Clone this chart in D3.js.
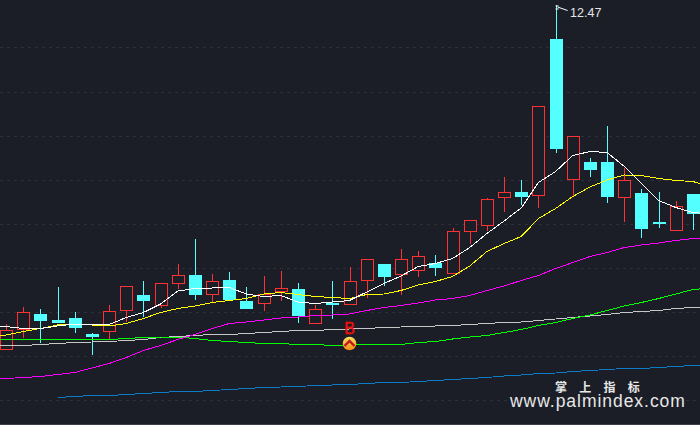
<!DOCTYPE html>
<html>
<head>
<meta charset="utf-8">
<script src="https://cdn.jsdelivr.net/npm/d3@7"></script>
<style>
html, body { margin: 0; padding: 0; background: #1b1e27; overflow: hidden; }
svg { display: block; }
</style>
</head>
<body>
<svg id="chart"></svg>
<script>
// candle data, one entry per bar
const opens = [5.58,5.98,6.29,6.17,6.21,5.89,5.94,6.36,6.67,6.46,6.90,7.07,6.68,6.97,6.55,6.50,6.75,6.79,6.10,6.52,6.48,6.96,7.29,7.08,7.16,7.31,7.10,7.94,8.06,8.62,8.73,8.66,11.79,8.98,9.33,9.33,8.62,8.71,8.13,7.96,8.69]
const closes = [5.96,6.32,6.16,6.12,6.02,5.83,6.34,6.84,6.55,6.90,7.06,6.67,6.94,6.57,6.39,6.68,6.80,6.26,6.38,6.48,6.94,7.38,7.03,7.38,7.44,7.22,7.94,8.16,8.58,8.72,8.63,10.44,9.60,9.84,9.17,8.63,8.96,8.00,8.09,8.44,8.29]
const highs = [6.09,6.43,6.39,6.83,6.33,5.92,6.47,6.84,6.95,6.90,7.29,7.79,7.09,7.13,6.83,7.05,7.15,6.91,6.48,6.95,7.23,7.38,7.29,7.59,7.55,7.47,8.01,8.16,8.61,9.03,8.97,10.44,12.47,9.84,9.41,10.05,9.21,8.79,8.73,8.55,8.69]
const lows = [5.58,5.82,5.72,6.12,5.92,5.48,5.78,6.14,6.24,6.42,6.79,6.57,6.54,6.57,6.39,6.36,6.56,6.12,6.10,6.20,6.48,6.62,6.86,6.68,7.04,7.06,7.10,7.70,7.95,8.34,8.48,8.42,9.52,8.64,9.04,8.52,8.13,7.82,8.02,7.96,7.97]

// moving averages run one bar past each edge of the window (bars -1 to 41)
const lineBars = d3.range(-1, 42)
const ma1 = [6.04,6.04,6.00,6.00,6.05,6.09,6.08,6.08,6.22,6.32,6.49,6.75,6.80,6.81,6.82,6.69,6.64,6.66,6.53,6.50,6.53,6.56,6.73,6.90,7.05,7.24,7.30,7.40,7.62,7.90,8.15,8.41,8.92,9.14,9.46,9.54,9.52,9.24,8.90,8.56,8.42,8.32,8.29]
const ma2 = [5.86,5.87,5.94,6.00,6.07,6.08,6.07,6.05,6.10,6.20,6.32,6.40,6.45,6.52,6.56,6.60,6.69,6.72,6.68,6.64,6.62,6.60,6.68,6.69,6.76,6.87,6.94,7.04,7.25,7.54,7.70,7.84,8.20,8.40,8.64,8.83,8.97,9.07,9.06,9.00,8.96,8.94,8.83]
const ma3 = [5.00,5.00,5.02,5.04,5.08,5.12,5.21,5.30,5.42,5.56,5.66,5.78,5.88,6.00,6.10,6.13,6.17,6.21,6.23,6.26,6.27,6.29,6.36,6.42,6.46,6.51,6.57,6.60,6.66,6.76,6.85,6.96,7.06,7.20,7.32,7.44,7.52,7.62,7.67,7.71,7.76,7.80,7.82]
const ma4 = [5.78,5.78,5.78,5.78,5.78,5.78,5.78,5.78,5.80,5.82,5.83,5.83,5.80,5.76,5.74,5.72,5.70,5.70,5.68,5.68,5.66,5.67,5.68,5.68,5.68,5.72,5.74,5.79,5.83,5.86,5.92,5.98,6.06,6.12,6.20,6.27,6.36,6.45,6.52,6.60,6.69,6.78,6.81]
const ma5 = [5.66,5.66,5.66,5.68,5.70,5.72,5.73,5.74,5.76,5.78,5.82,5.84,5.86,5.88,5.88,5.90,5.92,5.94,5.96,5.96,5.98,5.99,6.00,6.02,6.03,6.04,6.05,6.06,6.08,6.10,6.12,6.13,6.16,6.19,6.22,6.25,6.28,6.32,6.34,6.36,6.40,6.42,6.43]
const ma6 = [null,null,null,null,4.62,4.64,4.66,4.66,4.68,4.70,4.72,4.74,4.74,4.76,4.78,4.80,4.82,4.83,4.84,4.86,4.87,4.88,4.90,4.92,4.92,4.94,4.96,4.98,5.00,5.02,5.05,5.07,5.10,5.11,5.14,5.16,5.18,5.20,5.20,5.22,5.24,5.26,5.27]

const gridPrices = [11.63,10.73,9.85,8.97,8.09,7.21,6.33,5.45,4.57]
const signalBar = 20
const signalPrice = 5.84
const highBar = 32
const highLabel = "12.47"

const visWidth = 700
const visHeight = 425
const bg = "#1b1e27"
const upColor = "#ff3232"
const downColor = "#54ffff"

const svg = d3.select("#chart").attr("width", visWidth).attr("height", visHeight)
svg.append("rect").attr("width", visWidth).attr("height", visHeight).attr("fill", bg)

const scaleX = d3.scaleLinear().domain([0, 40]).range([6, 693])
const scaleY = d3.scaleLinear().domain([4.07, 12.57]).range([visHeight, 0])

// dashed price grid
svg.append("g").selectAll("line")
    .data(gridPrices)
    .join("line")
    .attr("x1", 0)
    .attr("x2", visWidth)
    .attr("y1", d => Math.round(scaleY(d)) + 0.5)
    .attr("y2", d => Math.round(scaleY(d)) + 0.5)
    .attr("stroke", "#2c303a")
    .attr("stroke-dasharray", "3 4")

svg.append("line")
    .attr("x1", 0).attr("x2", visWidth)
    .attr("y1", visHeight - 0.5).attr("y2", visHeight - 0.5)
    .attr("stroke", "#3b404c")

// candles
const isUp = i => closes[i] >= opens[i]
const bars = svg.append("g").attr("shape-rendering", "crispEdges")
const idx = d3.range(opens.length)

bars.selectAll("line")
    .data(idx)
    .join("line")
    .attr("x1", i => Math.round(scaleX(i)) + 0.5)
    .attr("x2", i => Math.round(scaleX(i)) + 0.5)
    .attr("y1", i => scaleY(highs[i]))
    .attr("y2", i => scaleY(lows[i]))
    .attr("stroke", i => isUp(i) ? upColor : downColor)

bars.selectAll("rect")
    .data(idx)
    .join("rect")
    .attr("x", i => Math.round(scaleX(i)) - 6 + (isUp(i) ? 0 : -0.5))
    .attr("width", i => isUp(i) ? 12 : 13)
    .attr("y", i => scaleY(Math.max(opens[i], closes[i])))
    .attr("height", i => Math.abs(scaleY(opens[i]) - scaleY(closes[i])))
    .attr("fill", i => isUp(i) ? bg : downColor)
    .attr("stroke", i => isUp(i) ? upColor : "none")

// moving averages
const lineGenerator = d3.line()
    .defined(d => d !== null)
    .x((d, i) => scaleX(lineBars[i]))
    .y(d => scaleY(d))

const lineSeries = [
    {values: ma6, color: "#0a7bc4"},
    {values: ma5, color: "#c8c8c8"},
    {values: ma4, color: "#00ff00"},
    {values: ma3, color: "#ff00ff"},
    {values: ma2, color: "#ffff00"},
    {values: ma1, color: "#ffffff"}
]

svg.append("g").selectAll("path")
    .data(lineSeries)
    .join("path")
    .attr("d", d => lineGenerator(d.values))
    .attr("fill", "none")
    .attr("stroke", d => d.color)
    .attr("stroke-width", 1)
    .attr("shape-rendering", "crispEdges")

// buy signal
const signalX = scaleX(signalBar)
const signalY = scaleY(signalPrice)
svg.append("text")
    .text("B")
    .attr("x", signalX)
    .attr("y", signalY - 2.3)
    .attr("text-anchor", "middle")
    .attr("font-family", "Liberation Sans, sans-serif")
    .attr("font-size", 16)
    .attr("fill", "#f01010")
    .attr("stroke", "#f01010")
    .attr("stroke-width", 0.4)

const grad = svg.append("defs").append("linearGradient")
    .attr("id", "signal-fill").attr("x1", 0).attr("x2", 0).attr("y1", 0).attr("y2", 1)
grad.append("stop").attr("offset", "0%").attr("stop-color", "#ffe566")
grad.append("stop").attr("offset", "100%").attr("stop-color", "#f58a10")

const icon = svg.append("g").attr("transform", `translate(${signalX},${signalY + 7})`)
icon.append("circle").attr("r", 6.8).attr("fill", "url(#signal-fill)")
icon.append("path")
    .attr("d", "M-5,2.5L0,-2.5L5,2.5")
    .attr("fill", "none")
    .attr("stroke", "#c01818")
    .attr("stroke-width", 2.4)

// highest price flag
const flagX = scaleX(highBar)
const flagY = scaleY(highs[highBar])
svg.append("path")
    .attr("d", `M${flagX},${flagY + 1}L${flagX + 3},${flagY + 1}M${flagX},${flagY + 4}L${flagX + 3},${flagY + 4}M${flagX + 2},${flagY + 2}L${flagX + 12},${flagY + 5.5}`)
    .attr("fill", "none")
    .attr("stroke", "#ffffff")

svg.append("text")
    .text(highLabel)
    .attr("x", flagX + 14.5)
    .attr("y", flagY + 12)
    .attr("font-family", "Liberation Sans, sans-serif")
    .attr("font-size", 12.5)
    .attr("fill", "#e6e6e6")

// watermark
svg.append("text")
    .text("掌 上 指 标")
    .attr("x", 555)
    .attr("y", 391.5)
    .attr("font-family", "Noto Sans CJK SC, sans-serif")
    .attr("font-weight", "bold")
    .attr("font-size", 12)
    .attr("letter-spacing", 4.75)
    .attr("fill", "#e8e8e8")

svg.append("text")
    .text("www.palmindex.com")
    .attr("x", 510)
    .attr("y", 406.5)
    .attr("font-family", "Liberation Sans, sans-serif")
    .attr("font-size", 17.5)
    .attr("letter-spacing", 0.96)
    .attr("fill", "#e8e8e8")
</script>
</body>
</html>
